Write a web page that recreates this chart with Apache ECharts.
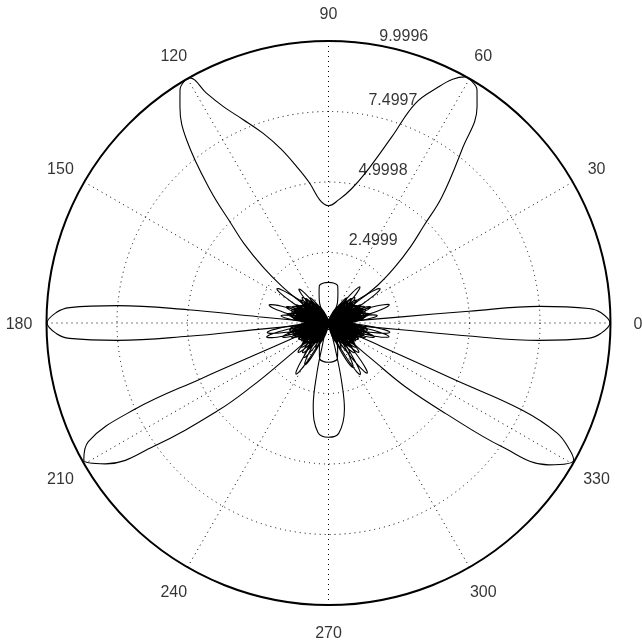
<!DOCTYPE html>
<html>
<head>
<meta charset="utf-8">
<script src="https://cdn.jsdelivr.net/npm/echarts@6/dist/echarts.min.js"></script>
<style>
  html, body { margin: 0; padding: 0; background: #fff; }
  #chart { width: 642px; height: 644px; }
</style>
</head>
<body>
<div id="chart"></div>
<script>
const rMax = 9.9996;
const ringStep = 2.4999;
const ringValues = [2.4999, 4.9998, 7.4997, 9.9996];
const ringLabels = ['2.4999', '4.9998', '7.4997', '9.9996'];
const angleTicks = [0, 30, 60, 90, 120, 150, 180, 210, 240, 270, 300, 330];
const angleLabels = ['0', '30', '60', '90', '120', '150', '180', '210', '240', '270', '300', '330'];

// main lobes as [angle deg, radius]
const lobe0 = [[-5.3, 0], [-5.4, 1], [-5.3, 2.5], [-5.3, 5], [-4.7, 7.5], [-3.4, 9.2], [-2.2, 9.66],
  [0, 9.98], [2.2, 9.66], [3.2, 9.25], [4.5, 7.5], [4.8, 5], [4.8, 2.5], [4.9, 1], [5, 0]];
const lobe60to120 = [[35.5, 0], [36.5, 1.2], [37.5, 2.2], [40, 3.05], [43, 4], [45.5, 4.8], [48, 6], [52.5, 7.8],
  [55.5, 9.3], [57.5, 9.8], [59.5, 9.97], [61, 9.98], [63, 9.7], [65, 9.24], [68.4, 8.38], [71.2, 6.98],
  [76.2, 5.47], [80.5, 4.8], [85.3, 4.38], [90, 4.16], [94, 4.37], [97.7, 5.01], [101.5, 5.66], [105.3, 6.4],
  [109, 7.11], [112.8, 7.83], [115.9, 8.53], [118, 9.24], [119.5, 9.98], [121, 9.97], [122.5, 9.8], [124.5, 9.3],
  [127.8, 8.2], [131.7, 6.3], [134.5, 4.9], [136.8, 4.1], [139.5, 3.05], [141.8, 2.1], [143.2, 1.2], [144.5, 0]];
const lobe180 = [[175, 0], [175.1, 1], [174.9, 2.5], [174.6, 5], [175.3, 7.5], [176.6, 9.2], [177.8, 9.66],
  [180, 9.98], [182.2, 9.66], [183.4, 9.2], [184.7, 7.5], [185.4, 5], [185.2, 2.5], [185, 1], [184.9, 0]];
const lobe210 = [[203, 0], [203.2, 1], [203.5, 2.1], [203.6, 4.95], [204, 7.5], [206.3, 9.5], [209.3, 9.95],
  [212.3, 9.35], [215.2, 7.6], [218.4, 5.0], [219.6, 3.5], [219.8, 2], [219.4, 1], [219, 0]];
const lobe270 = [[253.5, 0], [255, 0.9], [257, 1.83], [259.6, 3.0], [264.5, 3.9], [270, 4.05], [275.3, 3.93],
  [280.5, 3.1], [282.5, 2.2], [284, 1.3], [285.5, 0.6], [286.5, 0]];
const lobe330 = [[320.7, 0], [320.4, 1], [320.1, 2], [320.3, 3.54], [322.3, 5.24], [324.5, 7.56], [327.2, 9.29],
  [330.8, 9.96], [332.3, 9.65], [334.3, 9.0], [335.8, 7.52], [335.8, 4.93], [336.1, 2.07], [336.6, 1], [337, 0]];
const bulb90 = [[58, 0], [62, 0.25], [66, 0.78], [72.5, 1.11], [76, 1.35], [83, 1.43], [90, 1.44], [97, 1.43],
  [104, 1.35], [107.5, 1.11], [114, 0.78], [118, 0.25], [122, 0]];
const bulb270 = [[238, 0], [242, 0.25], [246, 0.75], [252.5, 1.08], [256, 1.3], [263, 1.38], [270, 1.39], [277, 1.38],
  [284, 1.3], [287.5, 1.08], [294, 0.75], [298, 0.25], [302, 0]];

// side lobes that stand out of the core: [centre angle, peak radius, width factor]
const sideLobesRight = [
  [6.8, 1.2, 0.8], [8.6, 1.75, 1], [10.5, 1.3, 1.2], [12.4, 1.5, 1.2], [14.4, 1.3, 1.2], [16.6, 2.25, 1],
  [18.8, 1.4, 1.2], [20.8, 1.6, 1.2], [22.8, 1.2, 1.2], [24.8, 1.4, 1.2], [26.8, 1.1, 1.2], [28.8, 1.3, 1.2],
  [30.8, 1.2, 1.2], [33.6, 2.2, 1],
  [36.5, 1.1, 1.2], [39, 1.3, 1.2], [41.5, 1.1, 1.2], [44, 1.3, 1.2], [46.5, 1.2, 1.2], [49, 1.7, 1],
  [51.5, 1.0, 1.2], [54, 1.1, 1.2], [57, 0.8, 1.2], [60, 0.6, 1.2],
  [-6.8, 1.2, 0.8], [-8.6, 2.2, 1], [-10.6, 1.4, 1.2], [-12.8, 2.2, 1], [-14.9, 1.5, 1.2], [-17, 1.7, 1.1],
  [-19.1, 1.3, 1.2], [-21.2, 1.4, 1.2],
  [-24, 1.1, 1.2], [-26.5, 1.0, 1.2], [-29, 1.2, 1.2], [-31.5, 1.0, 1.2], [-34, 1.1, 1.2], [-36.5, 1.0, 1.2],
  [-39, 1.2, 1.2],
  [-41.5, 1.3, 1.2], [-44, 1.5, 1.2], [-46.5, 1.2, 1.2], [-49, 1.4, 1.2], [-52.3, 2.25, 1], [-55.2, 1.3, 1.2],
  [-58.3, 2.15, 1], [-61.2, 1.8, 1.1], [-64, 1.0, 1.2], [-66.8, 0.8, 1.2], [-69.5, 0.7, 1.2], [-72.2, 0.55, 1.2]
];
const sideLobesLeft = [
  [173.2, 1.2, 0.8], [171.4, 1.7, 1], [169.5, 1.3, 1.2], [167.6, 1.5, 1.2], [165.6, 1.3, 1.2], [163.2, 2.2, 1],
  [161.2, 1.4, 1.2], [159.2, 1.6, 1.2], [157.2, 1.2, 1.2], [155.2, 1.4, 1.2], [153.2, 1.1, 1.2], [151.2, 1.3, 1.2],
  [149.2, 1.2, 1.2], [146.4, 2.2, 1],
  [143.5, 1.1, 1.2], [141, 1.3, 1.2], [138.5, 1.1, 1.2], [136, 1.3, 1.2], [133.5, 1.2, 1.2], [131, 1.6, 1],
  [128.5, 1.0, 1.2], [126, 1.1, 1.2], [123, 0.8, 1.2], [120, 0.6, 1.2],
  [186.8, 1.2, 0.8], [188.8, 2.2, 1], [190.8, 1.4, 1.2], [192.8, 2.25, 1], [194.9, 1.5, 1.2], [197, 1.7, 1.1],
  [199.1, 1.3, 1.2], [201.2, 1.4, 1.2],
  [204, 1.1, 1.2], [206.5, 1.0, 1.2], [209, 1.2, 1.2], [211.5, 1.0, 1.2], [214, 1.1, 1.2], [216.5, 1.0, 1.2],
  [219, 1.2, 1.2],
  [221.5, 1.3, 1.2], [224, 1.5, 1.2], [226.5, 1.2, 1.2], [229, 1.4, 1.2], [231.8, 1.2, 1.2], [234.6, 1.5, 1.2],
  [237.5, 2.15, 1], [240.5, 1.7, 1.1], [243.5, 1.0, 1.2], [246.3, 0.8, 1.2], [249, 0.7, 1.2], [251.8, 0.55, 1.2]
];
// the dense small lobes of the dark core: [centre angle, peak radius]
const coreLobesRight = [
  [9.8, 1.3], [11.9, 1.4], [14, 1.3], [16, 1.35], [18, 1.25], [20, 1.3], [22, 1.2], [24, 1.25], [26, 1.15],
  [28, 1.2], [30, 1.1], [32.2, 1.15], [35, 1.05], [37.8, 1.1], [40.3, 1.0], [42.8, 1.05], [45.3, 0.95],
  [47.8, 1.0], [50.3, 0.9], [53, 0.85], [55.8, 0.8], [58.6, 0.7],
  [-9.8, 1.4], [-11.9, 1.3], [-14, 1.35], [-16, 1.3], [-18.1, 1.25], [-20.2, 1.3], [-22.5, 1.2], [-25.2, 1.15],
  [-27.8, 1.2], [-30.2, 1.1], [-32.8, 1.15], [-35.2, 1.05], [-37.8, 1.1], [-40.2, 1.0], [-42.8, 1.05],
  [-45.3, 0.95], [-47.8, 1.0], [-50.5, 0.9], [-53.8, 0.9], [-56.8, 0.8], [-59.8, 0.75], [-62.6, 0.65],
  [-65.4, 0.55], [-68.1, 0.5]
];
const coreLobesLeft = [
  [170.2, 1.3], [168.1, 1.4], [166, 1.3], [164, 1.35], [162, 1.25], [160, 1.3], [158, 1.2], [156, 1.25],
  [154, 1.15], [152, 1.2], [150, 1.1], [147.8, 1.15], [145, 1.05], [142.2, 1.1], [139.7, 1.0], [137.2, 1.05],
  [134.7, 0.95], [132.2, 1.0], [129.7, 0.9], [127, 0.85], [124.2, 0.8], [121.4, 0.7],
  [189.8, 1.4], [191.9, 1.3], [194, 1.35], [196, 1.3], [198.1, 1.25], [200.2, 1.3], [202.5, 1.2], [205.2, 1.15],
  [207.8, 1.2], [210.2, 1.1], [212.8, 1.15], [215.2, 1.05], [217.8, 1.1], [220.2, 1.0], [222.8, 1.05],
  [225.3, 0.95], [227.8, 1.0], [230.5, 0.9], [233.8, 0.9], [236.8, 0.8], [239.8, 0.75], [242.6, 0.65],
  [245.4, 0.55], [248.1, 0.5]
];
const coreWidth = 2;
// outline of one side lobe: [angle offset deg, fraction of peak]
const petalShape = [[-18, 0], [-16.7, 0.1], [-11.3, 0.2], [-7.8, 0.35], [-5.7, 0.5], [-4.2, 0.65], [-2.9, 0.8],
  [-1.7, 0.92], [-0.8, 0.98], [0, 1], [0.8, 0.98], [1.7, 0.92], [2.9, 0.8], [4.2, 0.65], [5.7, 0.5],
  [7.8, 0.35], [11.3, 0.2], [16.7, 0.1], [18, 0]];

function normAngle(a) {
  return a < 0 ? a + 360 : a;
}
function addPoint(list, angle, r) {
  const last = list[list.length - 1];
  if (r === 0 && last && last[0] === 0) return;
  list.push([r, normAngle(angle)]);
}
function addPetal(list, a, peak, s) {
  petalShape.forEach(([t, f]) => addPoint(list, a + t * s, peak * f));
}

const mainCurve = [];
[lobe0, lobe60to120, bulb90, lobe180, lobe210, bulb270, lobe270, lobe330].forEach(lobe => {
  lobe.forEach(p => addPoint(mainCurve, p[0], p[1]));
});

const sideCurve = [];
sideLobesRight.concat(sideLobesLeft).forEach(([a, peak, s]) => addPetal(sideCurve, a, peak, s));
coreLobesRight.concat(coreLobesLeft).forEach(([a, peak]) => addPetal(sideCurve, a, peak, coreWidth));

const font = '"Liberation Sans", Arial, sans-serif';
const dotted = { color: '#000', width: 1, type: [1, 4] };

const chart = echarts.init(document.getElementById('chart'));
chart.setOption({
  animation: false,
  backgroundColor: '#fff',
  polar: { center: [328.5, 323], radius: 282 },
  angleAxis: {
    type: 'value',
    min: 0,
    max: 360,
    interval: 30,
    startAngle: 0,
    clockwise: false,
    axisLine: { lineStyle: { color: '#000', width: 2 } },
    axisTick: { show: false },
    axisLabel: { show: false },
    splitLine: { show: true, lineStyle: dotted }
  },
  radiusAxis: {
    type: 'value',
    min: 0,
    max: rMax,
    interval: ringStep,
    axisLine: { show: false },
    axisTick: { show: false },
    axisLabel: { show: false },
    splitLine: { show: true, lineStyle: dotted }
  },
  series: [
    {
      type: 'line',
      coordinateSystem: 'polar',
      data: mainCurve,
      symbol: 'none',
      smooth: 0.4,
      lineStyle: { color: '#000', width: 1.1 },
      z: 3
    },
    {
      type: 'line',
      coordinateSystem: 'polar',
      data: sideCurve,
      symbol: 'none',
      smooth: 0.2,
      lineStyle: { color: '#000', width: 1.1 },
      z: 3
    },
    {
      type: 'scatter',
      coordinateSystem: 'polar',
      clip: false,
      silent: true,
      symbolSize: 1,
      itemStyle: { color: 'rgba(0,0,0,0)' },
      data: angleTicks.map(a => [rMax * 1.0975, a]),
      label: {
        show: true,
        position: 'inside',
        offset: [0, 1.5],
        color: '#000',
        fontSize: 16,
        fontFamily: font,
        formatter: p => angleLabels[p.dataIndex]
      },
      z: 4
    },
    {
      type: 'scatter',
      coordinateSystem: 'polar',
      clip: false,
      silent: true,
      symbolSize: 1,
      itemStyle: { color: 'rgba(0,0,0,0)' },
      data: ringValues.map((v, i) => ({
        value: [v, 82],
        label: { offset: i === ringValues.length - 1 ? [11, -7] : [10, -13] }
      })),
      label: {
        show: true,
        position: 'right',
        distance: 0,
        color: '#000',
        fontSize: 16,
        fontFamily: font,
        formatter: p => ringLabels[p.dataIndex]
      },
      z: 4
    }
  ]
});
</script>
</body>
</html>
